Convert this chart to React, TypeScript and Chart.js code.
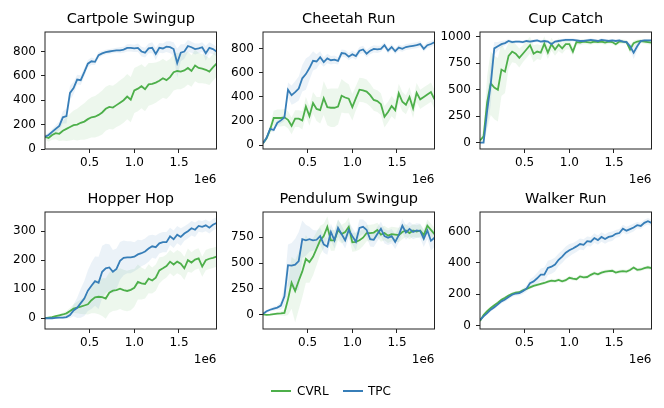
import { useEffect, useRef } from 'react';
import { Chart, registerables } from 'chart.js';

Chart.register(...registerables);

// environment steps, in units of 1e6
const steps = [
  0, 0.04, 0.08, 0.12, 0.16, 0.2, 0.24, 0.28, 0.32, 0.36, 0.4, 0.44, 0.48, 0.52, 0.56, 0.6, 0.64,
  0.68, 0.72, 0.76, 0.8, 0.84, 0.88, 0.92, 0.96, 1.0, 1.04, 1.08, 1.12, 1.16, 1.2, 1.24, 1.28,
  1.32, 1.36, 1.4, 1.44, 1.48, 1.52, 1.56, 1.6, 1.64, 1.68, 1.72, 1.76, 1.8, 1.84, 1.88, 1.92,
];
const xTicks = [0.5, 1.0, 1.5];

const cartpoleTpc = [100,115,140,165,190,260,270,460,500,570,565,630,700,720,715,770,785,795,800,805,810,810,815,830,830,825,830,800,790,825,830,780,830,825,840,835,820,705,790,800,845,835,820,825,835,785,830,820,800];
const cartpoleTpcSd = [15,20,25,30,35,50,60,60,50,40,40,35,30,30,25,25,20,20,20,20,20,25,25,30,30,30,35,40,40,40,45,50,40,40,45,50,55,120,70,60,50,45,45,40,40,60,45,40,40];
const cartpoleCvrl = [100,90,115,130,125,150,165,180,195,200,215,225,245,260,265,280,300,330,345,340,360,380,400,430,405,480,495,515,490,530,535,545,560,580,565,590,630,640,635,645,665,640,685,665,660,650,635,670,700];
const cartpoleCvrlSd = [20,30,40,50,60,80,100,110,120,130,140,150,160,165,170,175,180,180,180,180,180,185,185,185,185,185,185,180,180,175,170,165,160,160,155,150,150,150,145,140,135,130,130,125,120,115,110,110,110];

const cheetahTpc = [15,60,135,125,185,205,230,460,415,440,470,555,590,640,700,695,730,690,720,705,710,700,765,760,735,755,740,785,795,760,785,800,795,800,830,785,815,780,810,800,815,820,825,830,840,800,830,840,855];
const cheetahTpcSd = [10,15,20,20,20,25,30,60,80,90,100,110,130,100,80,60,50,40,40,35,35,30,30,30,30,30,30,30,30,30,30,30,30,25,25,25,25,25,25,25,25,25,25,25,25,25,25,25,25];
const cheetahCvrl = [15,55,130,225,225,225,230,210,160,220,220,205,320,240,350,300,290,390,315,310,310,320,410,395,385,315,390,460,455,445,415,375,365,340,235,275,325,290,430,360,335,400,305,435,380,400,420,440,380];
const cheetahCvrlSd = [10,20,40,60,70,70,70,70,70,70,70,75,80,80,90,100,110,140,150,160,160,150,140,130,120,110,100,100,100,100,95,90,90,90,90,85,85,80,80,80,80,80,80,80,80,80,80,80,80];

const cupTpc = [0,0,300,550,890,910,930,940,960,950,955,955,950,960,955,960,965,955,960,955,930,955,960,965,970,970,970,965,960,960,965,970,965,960,970,965,960,965,960,965,955,950,910,850,910,960,965,965,965];
const cupTpcSd = [0,0,150,200,60,40,30,25,20,15,15,15,15,15,15,15,15,15,15,15,15,15,15,15,15,15,15,15,15,15,15,15,15,15,15,15,15,15,15,15,15,15,30,60,40,15,15,15,15];
const cupCvrl = [20,60,380,560,520,500,690,670,820,860,840,800,840,880,920,840,860,850,935,850,930,880,925,890,930,930,860,950,945,955,950,945,955,950,955,945,955,950,930,955,955,950,880,940,955,960,955,950,945];
const cupCvrlSd = [20,60,250,300,300,300,250,200,120,100,90,90,80,80,80,80,70,70,70,60,60,60,60,50,50,50,40,30,25,25,20,20,20,20,20,20,20,20,20,20,20,20,40,25,20,20,20,20,20];

const hopperTpc = [0,0,0,1,2,2,4,11,27,36,52,68,95,112,128,122,160,172,175,160,170,198,208,210,210,212,220,224,230,240,248,245,258,262,262,282,272,288,280,292,300,310,305,318,315,320,312,322,328];
const hopperTpcSd = [1,1,1,2,3,4,6,10,20,35,50,60,70,80,85,90,90,85,80,75,70,65,60,55,55,50,50,45,45,45,40,40,35,35,35,30,30,30,30,25,25,25,25,20,20,20,20,20,20];
const hopperCvrl = [0,2,4,7,10,13,17,25,33,37,40,44,48,62,72,74,73,68,88,95,97,102,97,94,98,105,125,120,118,136,130,140,165,172,180,195,185,195,188,172,200,192,202,206,178,200,205,208,212];
const hopperCvrlSd = [1,2,3,4,5,6,8,10,15,20,25,30,35,45,55,60,65,70,70,70,70,70,70,70,70,65,60,55,50,50,45,45,45,40,40,40,40,40,40,40,40,35,35,35,35,35,35,35,35];

const pendulumTpc = [10,35,50,60,70,90,180,480,475,485,520,730,720,730,720,725,760,680,660,800,720,840,780,720,820,760,705,840,850,820,730,725,780,830,760,745,760,705,770,860,795,830,800,815,810,735,815,715,745];
const pendulumTpcSd = [10,15,15,20,20,40,100,200,220,250,280,180,150,120,100,90,80,80,80,80,80,80,80,80,80,80,80,80,70,70,70,70,70,70,70,70,70,70,70,70,70,70,70,70,70,80,80,90,90];
const pendulumCvrl = [5,0,2,8,12,15,20,150,310,230,330,420,540,510,560,640,720,760,850,720,720,820,780,800,850,700,705,720,745,790,790,795,820,775,790,765,780,775,770,800,815,790,815,805,815,770,860,820,780];
const pendulumCvrlSd = [5,5,5,10,15,20,30,150,250,300,280,250,230,200,180,160,140,120,100,100,100,100,90,90,90,90,90,90,80,80,80,80,70,70,70,70,70,70,70,70,60,60,60,60,60,60,60,60,60];

const walkerTpc = [36,60,80,102,118,136,155,167,182,197,205,208,220,236,270,282,302,325,325,368,376,390,420,440,465,480,492,505,520,515,538,535,558,545,565,552,565,570,585,590,618,605,615,625,640,635,655,665,655];
const walkerTpcSd = [8,10,10,12,12,12,14,14,15,15,15,15,18,20,25,30,35,40,45,45,45,45,40,40,40,40,35,35,35,35,30,30,30,30,30,30,30,30,25,25,25,25,25,25,20,20,20,20,20];
const walkerCvrl = [30,68,92,113,130,146,165,178,192,203,210,213,226,234,244,254,260,266,272,281,287,284,292,283,290,305,300,296,314,308,310,324,334,327,338,345,348,350,338,344,348,345,355,370,356,358,366,372,366];
const walkerCvrlSd = [8,8,8,8,8,10,10,10,10,10,10,10,10,10,10,10,10,10,10,10,12,12,12,12,12,12,12,12,12,12,12,12,12,12,12,12,12,12,12,12,12,12,12,12,12,12,12,12,12];

const panels = [
  { title: 'Cartpole Swingup', tpc: cartpoleTpc, tpcSd: cartpoleTpcSd, cvrl: cartpoleCvrl, cvrlSd: cartpoleCvrlSd, yTicks: [0, 200, 400, 600, 800], yMin: 0, yMax: 960 },
  { title: 'Cheetah Run', tpc: cheetahTpc, tpcSd: cheetahTpcSd, cvrl: cheetahCvrl, cvrlSd: cheetahCvrlSd, yTicks: [0, 200, 400, 600, 800], yMin: -33, yMax: 940 },
  { title: 'Cup Catch', tpc: cupTpc, tpcSd: cupTpcSd, cvrl: cupCvrl, cvrlSd: cupCvrlSd, yTicks: [0, 250, 500, 750, 1000], yMin: -60, yMax: 1045 },
  { title: 'Hopper Hop', tpc: hopperTpc, tpcSd: hopperTpcSd, cvrl: hopperCvrl, cvrlSd: hopperCvrlSd, yTicks: [0, 100, 200, 300], yMin: -37, yMax: 366 },
  { title: 'Pendulum Swingup', tpc: pendulumTpc, tpcSd: pendulumTpcSd, cvrl: pendulumCvrl, cvrlSd: pendulumCvrlSd, yTicks: [0, 250, 500, 750], yMin: -136, yMax: 993 },
  { title: 'Walker Run', tpc: walkerTpc, tpcSd: walkerTpcSd, cvrl: walkerCvrl, cvrlSd: walkerCvrlSd, yTicks: [0, 200, 400, 600], yMin: -21, yMax: 724 },
];

const GREEN = '#4daf4a';
const BLUE = '#377eb8';
const GREEN_FILL = 'rgba(77,175,74,0.1)';
const BLUE_FILL = 'rgba(55,126,184,0.1)';
const INK = '#222';

const CANVAS_W = 225;
const CANVAS_H = 190;
const Y_AXIS_W = 45;
const X_AXIS_H = 41;
const PLOT_W = 171.5;

Chart.defaults.font.family = "'DejaVu Sans', sans-serif";
Chart.defaults.color = '#000';

const framePlugin = {
  id: 'frame',
  afterDatasetsDraw(chart: Chart) {
    const { ctx, chartArea } = chart;
    ctx.save();
    ctx.strokeStyle = INK;
    ctx.lineWidth = 1;
    ctx.strokeRect(chartArea.left, chartArea.top, chartArea.right - chartArea.left, chartArea.bottom - chartArea.top);
    ctx.restore();
  },
};

const toPoints = (ys: number[]) => steps.map((x, i) => ({ x, y: ys[i] }));
const band = (ys: number[], sd: number[], sign: number) => steps.map((x, i) => ({ x, y: ys[i] + sign * sd[i] }));

function Panel({ index }: { index: number }) {
  const canvasRef = useRef<HTMLCanvasElement>(null);
  const p = panels[index];
  const col = index % 3;
  const row = Math.floor(index / 3);

  useEffect(() => {
    if (!canvasRef.current) return;
    const line = (data: { x: number; y: number }[], color: string) => ({
      data, borderColor: color, borderWidth: 1.8, pointRadius: 0, fill: false, tension: 0,
    });
    const edge = (data: { x: number; y: number }[], color: string, fill: any) => ({
      data, borderWidth: 0, borderColor: 'transparent', backgroundColor: color, pointRadius: 0, fill, tension: 0,
    });
    const chart = new Chart(canvasRef.current, {
      type: 'line',
      data: {
        datasets: [
          line(toPoints(p.tpc), BLUE),
          line(toPoints(p.cvrl), GREEN),
          edge(band(p.tpc, p.tpcSd, -1), BLUE_FILL, false),
          edge(band(p.tpc, p.tpcSd, 1), BLUE_FILL, '-1'),
          edge(band(p.cvrl, p.cvrlSd, -1), GREEN_FILL, false),
          edge(band(p.cvrl, p.cvrlSd, 1), GREEN_FILL, '-1'),
        ] as any,
      },
      options: {
        responsive: false,
        animation: false,
        layout: { padding: { left: 0, right: CANVAS_W - Y_AXIS_W - PLOT_W, top: 0, bottom: 0 } },
        plugins: {
          legend: { display: false },
          tooltip: { enabled: false },
          title: {
            display: true,
            fullSize: false,
            text: p.title,
            color: '#000',
            font: { size: 14.5, weight: 'normal' },
            padding: { top: 10.3, bottom: 4.3 },
          },
        },
        scales: {
          x: {
            type: 'linear',
            min: 0,
            max: 1.92,
            afterBuildTicks: (s: any) => { s.ticks = xTicks.map((v) => ({ value: v })); },
            afterFit: (s: any) => { s.height = X_AXIS_H; },
            ticks: { callback: (v: any) => Number(v).toFixed(1), font: { size: 12 }, padding: 3, maxRotation: 0, autoSkip: false, color: '#000' },
            grid: { drawOnChartArea: false, drawTicks: true, tickLength: 4, color: INK },
            border: { display: false },
            title: { display: true, text: '1e6', align: 'end', font: { size: 12 }, color: '#000', padding: { top: 0, bottom: 2.8 } },
          },
          y: {
            type: 'linear',
            min: p.yMin,
            max: p.yMax,
            afterBuildTicks: (s: any) => { s.ticks = p.yTicks.map((v) => ({ value: v })); },
            afterFit: (s: any) => { s.width = Y_AXIS_W; },
            ticks: { callback: (v: any) => String(v), font: { size: 12 }, padding: 5, color: '#000' },
            grid: { drawOnChartArea: false, drawTicks: true, tickLength: 4, color: INK },
            border: { display: false },
          },
        },
      },
      plugins: [framePlugin],
    });
    return () => chart.destroy();
  }, [p]);

  return (
    <canvas
      ref={canvasRef}
      width={CANVAS_W}
      height={CANVAS_H}
      style={{ position: 'absolute', left: col * 217.5, top: row * 180, width: CANVAS_W, height: CANVAS_H }}
    />
  );
}

const legendText = { position: 'absolute' as const, top: 383, fontSize: 12, lineHeight: '16px', fontFamily: "'DejaVu Sans', sans-serif", color: '#000' };

export default function App() {
  return (
    <div style={{ position: 'absolute', left: 0, top: 0, width: 664, height: 408, background: '#fff', overflow: 'hidden' }}>
      {panels.map((_, i) => <Panel key={i} index={i} />)}
      <div style={{ position: 'absolute', left: 271, top: 390, width: 20, height: 2, background: GREEN }} />
      <span style={{ ...legendText, left: 297 }}>CVRL</span>
      <div style={{ position: 'absolute', left: 343, top: 390, width: 20, height: 2, background: BLUE }} />
      <span style={{ ...legendText, left: 368 }}>TPC</span>
    </div>
  );
}
